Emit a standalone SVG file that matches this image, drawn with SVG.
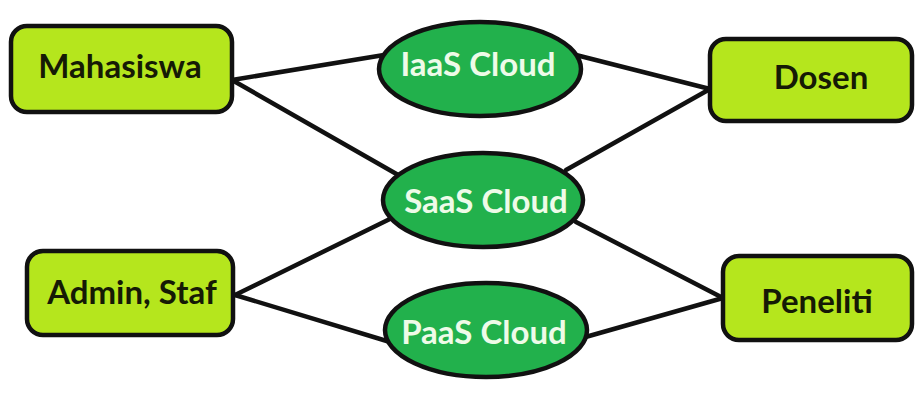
<svg xmlns="http://www.w3.org/2000/svg" width="919" height="394" viewBox="0 0 919 394">
  <style>
    .box { fill: #b5e61d; stroke: #111; stroke-width: 4.5; }
    .cloud { fill: #22b14c; stroke: #111; stroke-width: 4.5; }
    .btxt { font-family: "Lato", "Liberation Sans", sans-serif; font-weight: bold; font-size: 33px; fill: #151a05; text-anchor: middle; }
    .ctxt { font-family: "Lato", "Liberation Sans", sans-serif; font-weight: bold; font-size: 33px; fill: #eefbe8; text-anchor: middle; }
    .conn { stroke: #111; stroke-width: 4.5; fill: none; stroke-linecap: round; }
  </style>
  <rect width="919" height="394" fill="#ffffff"/>
  <g id="connectors">
    <line class="conn" x1="232" y1="80" x2="384" y2="55"/>
    <line class="conn" x1="232" y1="80" x2="400" y2="176"/>
    <line class="conn" x1="576" y1="55" x2="710" y2="89"/>
    <line class="conn" x1="566" y1="170" x2="710" y2="89"/>
    <line class="conn" x1="235" y1="295" x2="396" y2="216"/>
    <line class="conn" x1="235" y1="295" x2="390" y2="342"/>
    <line class="conn" x1="576" y1="222" x2="723" y2="298"/>
    <line class="conn" x1="582" y1="338" x2="723" y2="298"/>
  </g>
  <g id="mahasiswa">
    <rect class="box" x="11" y="26" width="221" height="86" rx="16"/>
    <text class="btxt" x="120" y="78">Mahasiswa</text>
  </g>
  <g id="admin-staf">
    <rect class="box" x="27" y="251" width="206" height="84" rx="16"/>
    <text class="btxt" x="132" y="304">Admin, Staf</text>
  </g>
  <g id="dosen">
    <rect class="box" x="710" y="39" width="202" height="82" rx="16"/>
    <text class="btxt" x="821" y="89">Dosen</text>
  </g>
  <g id="peneliti">
    <rect class="box" x="723" y="256" width="189" height="84" rx="16"/>
    <text class="btxt" x="817" y="313">Peneliti</text>
  </g>
  <g id="iaas-cloud">
    <ellipse class="cloud" cx="480" cy="69" rx="101" ry="47"/>
    <text class="ctxt" x="478" y="76">IaaS Cloud</text>
  </g>
  <g id="saas-cloud">
    <ellipse class="cloud" cx="483" cy="200" rx="100" ry="47"/>
    <text class="ctxt" x="486" y="213">SaaS Cloud</text>
  </g>
  <g id="paas-cloud">
    <ellipse class="cloud" cx="486" cy="330" rx="101" ry="47"/>
    <text class="ctxt" x="484" y="344">PaaS Cloud</text>
  </g>
</svg>
